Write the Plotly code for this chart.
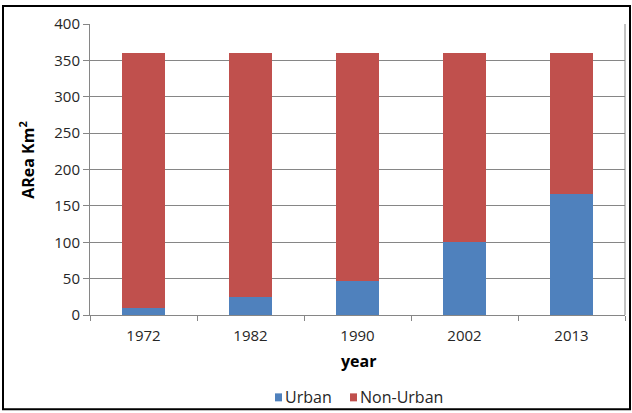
import plotly.graph_objects as go

years = ["1972", "1982", "1990", "2002", "2013"]
urban = [10, 25, 47, 100, 166]
non_urban = [350, 335, 313, 260, 194]
y_ticks = [0, 50, 100, 150, 200, 250, 300, 350, 400]
series_names = ["Urban", "Non-Urban"]
series_colors = ["#4F81BD", "#C0504D"]

FONT = "'Open Sans', sans-serif"
W, H = 632, 413
L, R, T, B = 90, 7, 24, 97.5
pw, ph = W - L - R, H - T - B

def px(x):
    return (x - L) / pw

def py(y):
    return (H - B - y) / ph

fig = go.Figure()
for name, vals, col in zip(series_names, [urban, non_urban], series_colors):
    fig.add_trace(go.Bar(x=years, y=vals, name=name, marker=dict(color=col, line=dict(width=0)),
                         showlegend=False))

# manual legend (compact Excel style)
legend_sq_x = [275, 350]
legend_txt_x = [283, 358]
legend_y = 398
shapes = []
annotations = []
for name, col, sx, tx in zip(series_names, series_colors, legend_sq_x, legend_txt_x):
    shapes.append(dict(type="rect", xref="paper", yref="paper", x0=px(sx), x1=px(sx + 7),
                       y0=py(legend_y + 4), y1=py(legend_y - 4), fillcolor=col, line=dict(width=0)))
    annotations.append(dict(text=name, x=px(tx), y=py(legend_y), xref="paper", yref="paper",
                            showarrow=False, xanchor="left", yanchor="middle",
                            font=dict(size=16, color="#262626")))

annotations += [
    dict(text="<b>year</b>", x=px(358), y=py(362), xref="paper", yref="paper",
         showarrow=False, font=dict(size=16, color="#000000"), xanchor="center", yanchor="middle"),
    dict(text="<b>ARea Km<sup>2</sup></b>", x=px(27), y=py(160), xref="paper", yref="paper",
         showarrow=False, textangle=-90, font=dict(size=16, color="#000000"),
         xanchor="center", yanchor="middle"),
]
shapes += [
    dict(type="rect", xref="paper", yref="paper", x0=px(3), x1=px(630), y0=py(410), y1=py(6),
         line=dict(color="#000000", width=2), fillcolor="rgba(0,0,0,0)", layer="below"),
    dict(type="line", xref="paper", yref="paper", x0=1, x1=1, y0=0, y1=1,
         line=dict(color="#868686", width=1)),
]

fig.update_layout(
    width=W, height=H,
    barmode="stack", bargap=0.6,
    margin=dict(l=L, r=R, t=T, b=B, pad=0),
    paper_bgcolor="white", plot_bgcolor="white",
    font=dict(family=FONT, size=15, color="#262626"),
    showlegend=False,
    xaxis=dict(type="category", showline=True, linecolor="#868686", linewidth=1,
               ticks="outside", tickson="boundaries", ticklen=5, tickcolor="#868686",
               showgrid=False, mirror=False, tickfont=dict(size=15), ticklabelstandoff=7),
    yaxis=dict(range=[0, 400], tickvals=y_ticks, showline=True, linecolor="#868686", linewidth=1,
               ticks="outside", ticklen=6, tickcolor="#868686", showgrid=True, gridcolor="#868686",
               gridwidth=1, zeroline=False, tickfont=dict(size=15)),
    annotations=annotations,
    shapes=shapes,
)

fig.write_html("out.html")
